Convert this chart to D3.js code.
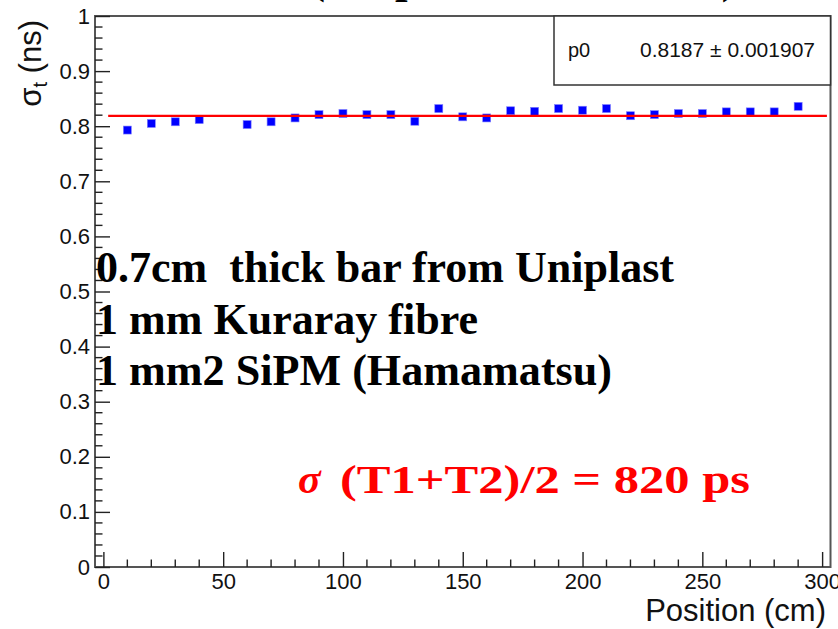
<!DOCTYPE html>
<html>
<head>
<meta charset="utf-8">
<script src="https://cdn.jsdelivr.net/npm/d3@7/dist/d3.min.js"></script>
<style>
  html, body { margin: 0; padding: 0; background: #fff; }
  svg { display: block; }
</style>
</head>
<body>
<svg id="chart" width="838" height="629"></svg>
<script>
// ---- data ----
const positions = [10, 20, 30, 40, 60, 70, 80, 90, 100, 110, 120, 130, 140, 150,
                   160, 170, 180, 190, 200, 210, 220, 230, 240, 250, 260, 270, 280, 290];
const sigmaT = [0.793, 0.805, 0.808, 0.812, 0.803, 0.808, 0.815, 0.821, 0.823, 0.821, 0.821, 0.809, 0.832, 0.817,
                0.815, 0.828, 0.827, 0.832, 0.829, 0.832, 0.819, 0.821, 0.823, 0.823, 0.826, 0.826, 0.826, 0.836];
const fitP0 = 0.8187;
const fitRange = [2, 302];
const xTickLabels = [0, 50, 100, 150, 200, 250, 300];
const yTickLabels = [0, 0.1, 0.2, 0.3, 0.4, 0.5, 0.6, 0.7, 0.8, 0.9, 1];
const notes = ["0.7cm  thick bar from Uniplast", "1 mm Kuraray fibre", "1 mm2 SiPM (Hamamatsu)"];

// ---- layout ----
const svg = d3.select("#chart");
const L = 95, R = 830.5, T = 16, B = 567;
const x = d3.scaleLinear().domain([-3.5, 303.5]).range([L, R]);
const y = d3.scaleLinear().domain([0, 1]).range([B, T]);
const sans = "'Liberation Sans', Arial, Helvetica, sans-serif";
const serif = "'Liberation Serif', 'Times New Roman', serif";

// Title (cut off at top)
svg.append("text")
  .attr("x", 310).attr("y", -7)
  .attr("font-family", serif).attr("font-weight", "bold").attr("font-size", 45)
  .attr("fill", "#000")
  .text("(Uniplast, 1 mm fibre)");

// Frame
svg.append("rect")
  .attr("x", L).attr("y", T).attr("width", R - L).attr("height", B - T)
  .attr("fill", "none").attr("stroke", "#555").attr("stroke-width", 2);

// Y axis ticks
const yAxis = d3.axisLeft(y).tickValues(yTickLabels).tickSize(-15).tickPadding(0).tickFormat(d3.format("~g"));
const gy = svg.append("g").attr("transform", `translate(${L},0)`).call(yAxis);
gy.select(".domain").remove();
gy.selectAll(".tick line").attr("stroke", "#222").attr("stroke-width", 1.4);
gy.selectAll(".tick text")
  .attr("x", -5)
  .attr("font-family", sans).attr("font-size", 22).attr("fill", "#111")
  .attr("text-anchor", "end");
// minor y ticks
const yMinor = d3.range(0, 1.0001, 0.02).filter(v => Math.abs(Math.round(v * 10) - v * 10) > 1e-6);
svg.append("g").selectAll("line").data(yMinor).join("line")
  .attr("x1", L).attr("x2", L + 7.5)
  .attr("y1", d => y(d)).attr("y2", d => y(d))
  .attr("stroke", "#222").attr("stroke-width", 1.4);

// X axis ticks
const xAxis = d3.axisBottom(x).tickValues(xTickLabels).tickSize(-15).tickPadding(0);
const gx = svg.append("g").attr("transform", `translate(0,${B})`).call(xAxis);
gx.select(".domain").remove();
gx.selectAll(".tick line").attr("stroke", "#222").attr("stroke-width", 1.4);
gx.selectAll(".tick text")
  .attr("y", 6).attr("dy", "0.71em")
  .attr("font-family", sans).attr("font-size", 22).attr("fill", "#111");
const xMinor = d3.range(0, 301, 10).filter(v => v % 50 !== 0);
svg.append("g").selectAll("line").data(xMinor).join("line")
  .attr("x1", d => x(d)).attr("x2", d => x(d))
  .attr("y1", B).attr("y2", B - 7.5)
  .attr("stroke", "#222").attr("stroke-width", 1.4);

// Axis titles
svg.append("text")
  .attr("x", 826).attr("y", 621)
  .attr("text-anchor", "end")
  .attr("font-family", sans).attr("font-size", 31).attr("fill", "#111")
  .text("Position (cm)");

const yl = svg.append("text")
  .attr("transform", "translate(41,20) rotate(-90)")
  .attr("text-anchor", "end")
  .attr("font-family", sans).attr("font-size", 31).attr("fill", "#111");
yl.append("tspan").text("σ");
yl.append("tspan").attr("font-size", 20).attr("dy", 6).text("t");
yl.append("tspan").attr("dy", -6).text(" (ns)");

// Data points
svg.append("g").selectAll("rect").data(positions.map((p, i) => [p, sigmaT[i]])).join("rect")
  .attr("x", d => x(d[0]) - 4).attr("y", d => y(d[1]) - 4)
  .attr("width", 8).attr("height", 8)
  .attr("fill", "#0000ff").attr("stroke", "#8080ff").attr("stroke-width", 0.6);

// Fit line
svg.append("line")
  .attr("x1", x(fitRange[0])).attr("x2", x(fitRange[1]))
  .attr("y1", y(fitP0)).attr("y2", y(fitP0))
  .attr("stroke", "#ff0000").attr("stroke-width", 2.4);

// Stats box
svg.append("rect")
  .attr("x", 554).attr("y", T).attr("width", R - 554).attr("height", 85 - T)
  .attr("fill", "#fff").attr("stroke", "#333").attr("stroke-width", 1.5);
svg.append("text")
  .attr("x", 568).attr("y", 57)
  .attr("font-family", sans).attr("font-size", 20).attr("fill", "#111")
  .text("p0");
svg.append("text")
  .attr("x", 640).attr("y", 57)
  .attr("font-family", sans).attr("font-size", 20).attr("fill", "#111")
  .attr("textLength", 175).attr("lengthAdjust", "spacingAndGlyphs")
  .text(`${fitP0} ± 0.001907`);

// Overlay notes
const noteWidths = [578, 382, 516];
notes.forEach((t, i) => {
  svg.append("text")
    .attr("x", 96).attr("y", 282 + i * 51.5)
    .attr("font-family", serif).attr("font-weight", "bold").attr("font-size", 44)
    .attr("fill", "#000")
    .style("white-space", "pre")
    .attr("textLength", noteWidths[i]).attr("lengthAdjust", "spacingAndGlyphs")
    .text(t);
});

// Red result text
svg.append("text")
  .attr("x", 298).attr("y", 493)
  .attr("font-family", serif).attr("font-weight", "bold").attr("font-style", "italic")
  .attr("font-size", 42).attr("fill", "#ff0000")
  .text("σ");
svg.append("text")
  .attr("x", 340).attr("y", 493)
  .attr("font-family", serif).attr("font-weight", "bold")
  .attr("font-size", 40).attr("fill", "#ff0000")
  .attr("textLength", 410).attr("lengthAdjust", "spacingAndGlyphs")
  .text("(T1+T2)/2 = 820 ps");
</script>
</body>
</html>
